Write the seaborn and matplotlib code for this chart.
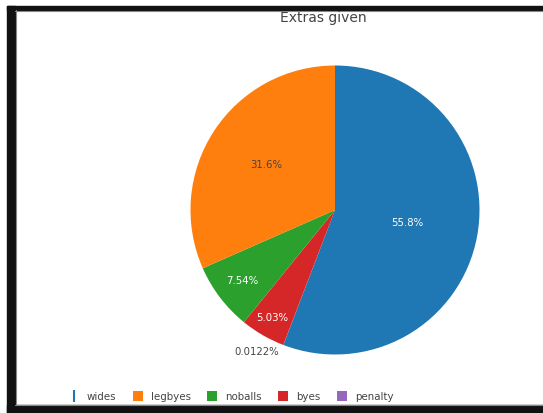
import numpy as np
import matplotlib
matplotlib.use("Agg")
import matplotlib.pyplot as plt
from matplotlib.patches import Rectangle
from matplotlib.lines import Line2D
import seaborn as sns

# Extras conceded, by type
extras = ["wides", "legbyes", "noballs", "byes", "penalty"]
runs = [4574, 2590, 618, 412, 1]
title = "Extras given"

sns.set_theme(style="white")
plt.rcParams["font.family"] = ["DejaVu Sans"]
palette = sns.color_palette("tab10", len(extras))
colors = dict(zip(extras, palette))

W, H = 543, 413
fig = plt.figure(figsize=(W / 100, H / 100), dpi=100)
fig.patch.set_facecolor("white")

def px(x, y, w, h):
    """Pixel box (from top-left) to figure fraction."""
    return (x / W, 1 - (y + h) / H, w / W, h / H)

# window frame
for box in [(7, 6, W - 7, 4), (7, 6, 8, H - 6), (7, 405, W - 7, 8)]:
    x0, y0, bw, bh = px(*box)
    fig.patches.append(Rectangle((x0, y0), bw, bh, transform=fig.transFigure,
                                 color="#111111", zorder=0))
for xs, ys in [([15.5 / W, 15.5 / W], [1 - 10 / H, 1 - 405 / H]),
               ([15 / W, 1], [1 - 10.5 / H, 1 - 10.5 / H]),
               ([15 / W, 1], [1 - 404.5 / H, 1 - 404.5 / H])]:
    fig.lines.append(Line2D(xs, ys, transform=fig.transFigure,
                            color="#888888", lw=0.8))

cx, cy, r = 335, 210, 144.5
ax = fig.add_axes(px(cx - r, cy - r, 2 * r, 2 * r))

# slices clockwise from 12 o'clock: largest first, the rest in reverse
order = [0, 4, 3, 2, 1]
vals = [runs[i] for i in order]
names = [extras[i] for i in order]
wedges, _ = ax.pie(vals, colors=[colors[n] for n in names], startangle=90,
                   counterclock=False, radius=1,
                   wedgeprops=dict(linewidth=0))
ax.set_xlim(-1, 1)
ax.set_ylim(-1, 1)
ax.set_axis_off()

total = sum(runs)
label_style = {
    "wides": dict(r=0.51, da=0, color="white"),
    "legbyes": dict(r=0.57, da=0, color="#444444"),
    "noballs": dict(r=0.81, da=0, color="white"),
    "byes": dict(r=0.865, da=0, color="white"),
    "penalty": dict(r=1.12, da=-8, color="#444444"),
}
for w, n, v in zip(wedges, names, vals):
    st = label_style[n]
    theta = np.deg2rad((w.theta1 + w.theta2) / 2 + st["da"])
    ax.text(st["r"] * np.cos(theta), st["r"] * np.sin(theta),
            f"{100 * v / total:.3g}%", ha="center", va="center",
            fontsize=7.3, color=st["color"])

fig.text(323 / W, 1 - 18 / H, title, ha="center", va="center",
         fontsize=10, color="#444444")

handles = []
for n in extras:
    if n == "wides":
        handles.append(Line2D([], [], marker="|", color=colors[n], ls="none",
                              markersize=8, markeredgewidth=1.5))
    else:
        handles.append(Line2D([], [], marker="s", color=colors[n], ls="none",
                              markersize=7, markeredgewidth=0))
leg = fig.legend(handles, extras, loc="center", bbox_to_anchor=(231 / W, 1 - 397 / H),
                 ncol=5, frameon=False, fontsize=7.4, handlelength=1.0,
                 handletextpad=0.75, columnspacing=1.6, labelcolor="#444444")

fig.savefig("out.png", dpi=100, facecolor="white")
